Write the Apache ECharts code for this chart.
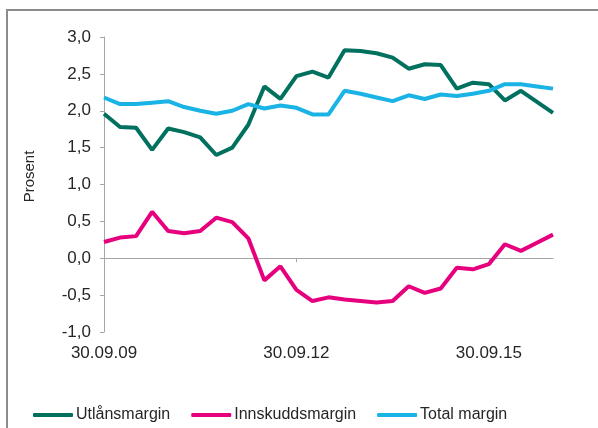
<!DOCTYPE html>
<html>
<head>
<meta charset="utf-8">
<script src="https://cdn.jsdelivr.net/npm/echarts@6/dist/echarts.min.js"></script>
<style>
  html, body { margin: 0; padding: 0; background: #fff; }
  #chart { width: 598px; height: 428px; }
</style>
</head>
<body>
<div id="chart"></div>
<script>
// kvartaler 30.09.09 - 30.09.16
const quarters = [
  '30.09.09', '31.12.09', '31.03.10', '30.06.10', '30.09.10', '31.12.10', '31.03.11', '30.06.11',
  '30.09.11', '31.12.11', '31.03.12', '30.06.12', '30.09.12', '31.12.12', '31.03.13', '30.06.13',
  '30.09.13', '31.12.13', '31.03.14', '30.06.14', '30.09.14', '31.12.14', '31.03.15', '30.06.15',
  '30.09.15', '31.12.15', '31.03.16', '30.06.16', '30.09.16'
]
const utlan = [
  1.96, 1.78, 1.77, 1.47, 1.76, 1.71, 1.64, 1.40, 1.50, 1.81,
  2.33, 2.16, 2.47, 2.53, 2.45, 2.82, 2.81, 2.78, 2.72, 2.57,
  2.63, 2.62, 2.30, 2.38, 2.36, 2.14, 2.27, 2.12, 1.97
]
const innskudd = [
  0.22, 0.28, 0.30, 0.63, 0.37, 0.34, 0.37, 0.55, 0.49, 0.27,
  -0.30, -0.11, -0.43, -0.58, -0.53, -0.56, -0.58, -0.60, -0.58, -0.38,
  -0.47, -0.41, -0.13, -0.15, -0.08, 0.19, 0.10, 0.21, 0.32
]
const total = [
  2.18, 2.09, 2.09, 2.11, 2.13, 2.05, 2.00, 1.96, 2.00, 2.09,
  2.03, 2.07, 2.04, 1.95, 1.95, 2.27, 2.23, 2.18, 2.13, 2.21,
  2.16, 2.22, 2.20, 2.23, 2.27, 2.36, 2.36, 2.33, 2.30
]
const names = ['Utlånsmargin', 'Innskuddsmargin', 'Total margin']
const colors = ['#00705f', '#e6007e', '#1ab3e6']

const chart = echarts.init(document.getElementById('chart'))
const txt = '#262626'
const axisGray = '#a6a6a6'

function line(name, data, color) {
  return {
    name: name,
    type: 'line',
    data: data,
    xAxisIndex: 0,
    symbol: 'none',
    lineStyle: { width: 4, color: color },
    itemStyle: { color: color }
  }
}

chart.setOption({
  animation: false,
  textStyle: { fontFamily: 'Liberation Sans, Arial, sans-serif' },
  grid: { left: 104, right: 45, top: 37, bottom: 96 },
  graphic: [{
    type: 'rect',
    shape: { x: 7, y: 10, width: 620, height: 440 },
    style: { fill: 'none', stroke: '#8c8c8c', lineWidth: 2 },
    silent: true
  }],
  legend: {
    bottom: 0,
    left: 28,
    itemWidth: 40,
    itemHeight: 4,
    itemGap: 21,
    icon: 'roundRect',
    textStyle: { fontSize: 16, color: txt, padding: [0, 0, 0, -2] },
    data: names
  },
  xAxis: [{
    type: 'category',
    data: quarters,
    boundaryGap: false,
    axisLine: { onZero: true, lineStyle: { color: axisGray, width: 1 } },
    axisTick: { show: true, interval: 11, length: 4, lineStyle: { color: axisGray } },
    axisLabel: { show: false }
  }, {
    type: 'category',
    data: quarters,
    boundaryGap: false,
    position: 'bottom',
    axisLine: { show: false },
    axisTick: { show: false },
    axisLabel: {
      interval: 11,
      fontSize: 17,
      color: txt,
      margin: 13
    }
  }],
  yAxis: {
    type: 'value',
    min: -1,
    max: 3,
    interval: 0.5,
    name: 'Prosent',
    nameLocation: 'middle',
    nameGap: 67,
    nameTextStyle: { fontSize: 15, color: txt, padding: [0, 0, 0, 16] },
    axisLine: { show: true, lineStyle: { color: axisGray } },
    axisTick: { show: true, length: 4, lineStyle: { color: axisGray } },
    splitLine: { show: false },
    axisLabel: {
      fontSize: 17,
      color: txt,
      margin: 13,
      formatter: v => v.toFixed(1).replace('.', ',')
    }
  },
  series: [
    line(names[0], utlan, colors[0]),
    line(names[1], innskudd, colors[1]),
    line(names[2], total, colors[2])
  ]
})
</script>
</body>
</html>
